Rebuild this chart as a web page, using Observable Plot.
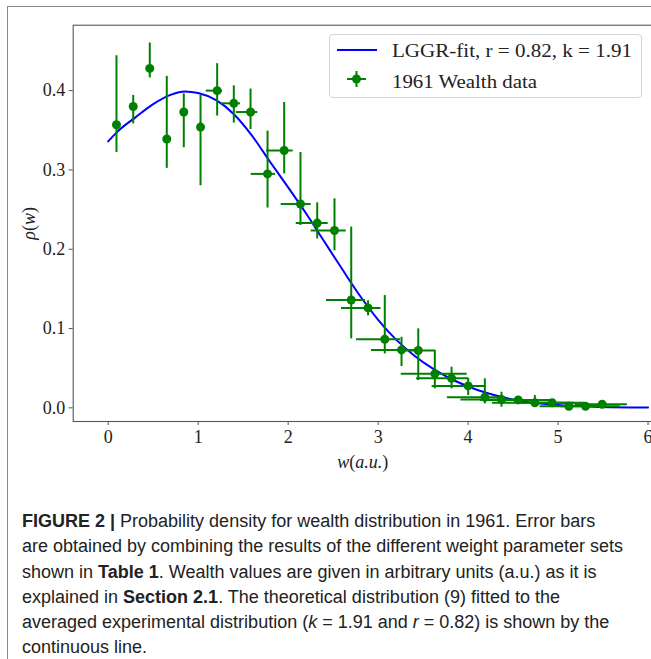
<!DOCTYPE html>
<html><head><meta charset="utf-8">
<script src="https://cdn.jsdelivr.net/npm/d3@7"></script>
<script src="https://cdn.jsdelivr.net/npm/@observablehq/plot@0.6"></script>
<style>
html,body{margin:0;padding:0;background:#fff;overflow:hidden;width:651px;height:659px;position:relative}
#border{position:absolute;left:7px;top:6px;width:700px;height:720px;border-top:1.5px solid #8a8a8a;border-left:1.5px solid #8a8a8a}
#chart{position:absolute;left:0;top:0;width:660px;height:480px}
#chart svg{max-width:none !important;height:480px !important}
#legend{position:absolute;left:329px;top:34px;width:311px;height:62px;border:1px solid #d3d3d3;border-radius:4px;background:#fff}
#caption{position:absolute;left:22px;top:509px;white-space:nowrap;font-family:"Liberation Sans",Arial,sans-serif;font-size:18px;line-height:25.3px;color:#222}
</style></head>
<body>
<div id="border"></div>
<div id="chart"></div>
<div id="legend">
  <svg width="311" height="62" style="position:absolute;left:0;top:0" font-family="'Liberation Serif', serif" font-size="18.5" fill="#222">
    <line x1="7" x2="47" y1="15" y2="15" stroke="#0000ff" stroke-width="2"/>
    <line x1="17" x2="36" y1="44" y2="44" stroke="#008000" stroke-width="2"/>
    <line x1="26.5" x2="26.5" y1="36" y2="52" stroke="#008000" stroke-width="2"/>
    <circle cx="26.5" cy="44" r="4.5" fill="#008000"/>
    <text x="62" y="21.5" textLength="240" lengthAdjust="spacingAndGlyphs">LGGR-fit, r = 0.82, k = 1.91</text>
    <text x="62" y="53" textLength="145" lengthAdjust="spacingAndGlyphs">1961 Wealth data</text>
  </svg>
</div>
<div id="caption"><b>FIGURE 2 |</b> Probability density for wealth distribution in 1961. Error bars<br>are obtained by combining the results of the different weight parameter sets<br>shown in <b>Table 1</b>. Wealth values are given in arbitrary units (a.u.) as it is<br>explained in <b>Section 2.1</b>. The theoretical distribution (9) fitted to the<br>averaged experimental distribution (<i>k</i> = 1.91 and <i>r</i> = 0.82) is shown by the<br>continuous line.</div>
<script>
// 1961 wealth data
const w     = [0.092,0.278,0.462,0.651,0.840,1.026,1.211,1.396,1.582,1.771,1.956,2.137,2.323,2.515,2.701,2.888,3.074,3.260,3.446,3.630,3.816,4.001,4.186,4.371,4.557,4.742,4.935,5.120,5.305,5.490];
const rho   = [0.357,0.380,0.428,0.339,0.373,0.354,0.400,0.384,0.373,0.295,0.3245,0.257,0.233,0.2236,0.136,0.126,0.0865,0.0731,0.0723,0.0429,0.0373,0.0277,0.0134,0.0105,0.010,0.0063,0.0063,0.002,0.002,0.0045];
const rhoHi = [0.444,0.394,0.460,0.418,0.396,0.394,0.434,0.406,0.402,0.349,0.385,0.322,0.2585,0.2636,0.228,0.135,0.1416,0.089,0.0996,0.0723,0.0512,0.037,0.0366,0.0197,0.014,0.0155,0.010,0.004,0.004,0.007];
const rhoLo = [0.322,0.358,0.416,0.302,0.328,0.280,0.368,0.359,0.351,0.252,0.295,0.230,0.213,0.198,0.087,0.116,0.068,0.052,0.0344,0.024,0.024,0.0155,0.005,0.0008,0.006,0.0008,0.003,0.000,0.000,0.002];
const wLo   = [0.092,0.278,0.462,0.651,0.840,1.026,1.09,1.256,1.423,1.589,1.76,1.923,2.09,2.256,2.426,2.593,2.76,2.926,3.253,3.257,3.427,3.60,3.77,3.92,4.14,4.27,4.58,4.80,5.03,5.19];
const wHi   = [0.092,0.278,0.462,0.651,0.840,1.026,1.27,1.470,1.663,1.859,2.056,2.256,2.445,2.645,2.86,3.032,3.249,3.434,3.64,3.99,4.008,4.20,4.36,4.546,4.97,5.18,5.30,5.47,5.69,5.77];
// LGGR fit curve
const fitW   = [0.0,0.1,0.3,0.5,0.7,0.85,1.0,1.2,1.4,1.6,1.8,2.0,2.2,2.4,2.6,2.8,3.0,3.2,3.4,3.6,3.8,4.0,4.2,4.4,4.6,4.8,5.0,5.4,6.0];
const fitRho = [0.336,0.348,0.366,0.383,0.395,0.399,0.397,0.388,0.370,0.343,0.310,0.278,0.245,0.210,0.175,0.141,0.111,0.086,0.066,0.050,0.037,0.027,0.019,0.013,0.0085,0.0055,0.0035,0.0015,0.0004];
const xTicks = [0,1,2,3,4,5,6];
const yTicks = [0.0,0.1,0.2,0.3,0.4];

const pts = w.map((v,i)=>({w:v, rho:rho[i], lo:rhoLo[i], hi:rhoHi[i], wlo:wLo[i], whi:wHi[i]}));
const fit = fitW.map((v,i)=>({w:v, rho:fitRho[i]}));
const green = "#008000";

const chart = Plot.plot({
  width: 660, height: 480,
  marginLeft: 72.7, marginRight: 8, marginTop: 24.7, marginBottom: 59,
  x: {domain: [-0.389, 6.035], range: [72.7, 650.7]},
  y: {domain: [-0.0172, 0.4825]},
  style: {fontFamily: "'Liberation Serif', serif", fontSize: "18px", color: "#222", background: "transparent", overflow: "visible"},
  marks: [
    Plot.frame({stroke: "#555", strokeWidth: 1.1}),
    Plot.axisX({ticks: xTicks, tickSize: 4, tickPadding: 5, tickFormat: d => String(d), label: "w(a.u.)", labelAnchor: "center", labelOffset: 46, labelArrow: "none", stroke: "#555"}),
    Plot.axisY({ticks: yTicks, tickSize: 4, tickPadding: 4, tickFormat: d3.format(".1f"), label: "ρ(w)", labelAnchor: "center", labelOffset: 51, labelArrow: "none", stroke: "#555"}),
    Plot.line(fit, {x: "w", y: "rho", stroke: "#0000ff", strokeWidth: 2, curve: "monotone-x"}),
    Plot.ruleX(pts, {x: "w", y1: "lo", y2: "hi", stroke: green, strokeWidth: 2}),
    Plot.ruleY(pts, {y: "rho", x1: "wlo", x2: "whi", stroke: green, strokeWidth: 2}),
    Plot.dot(pts, {x: "w", y: "rho", r: 4.5, fill: green, stroke: null})
  ]
});
document.getElementById("chart").appendChild(chart);
// italic math labels
const xl = chart.querySelector('[aria-label="x-axis label"] text');
if (xl) xl.innerHTML = '<tspan font-style="italic">w</tspan>(<tspan font-style="italic">a.u.</tspan>)';
const yl = chart.querySelector('[aria-label="y-axis label"] text');
if (yl) yl.innerHTML = '<tspan font-style="italic">ρ</tspan>(<tspan font-style="italic">w</tspan>)';
</script>
</body></html>
